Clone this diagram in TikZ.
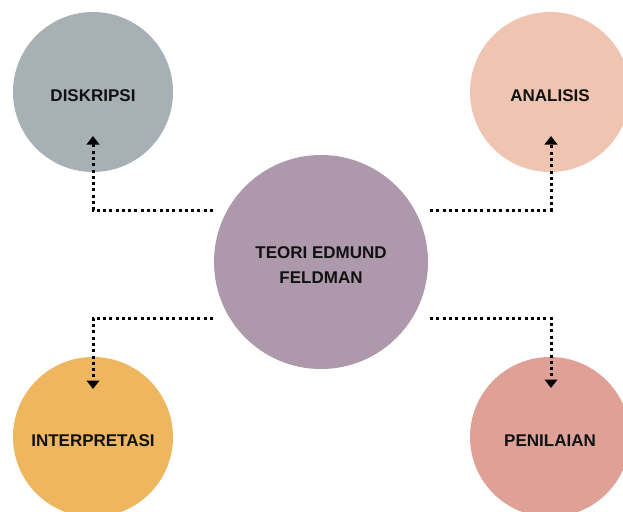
\documentclass[tikz,border=0pt]{standalone}
\usepackage{fontspec}
\setmainfont{Liberation Sans}
\usetikzlibrary{arrows.meta}
\definecolor{cgray}{HTML}{A7B0B4}
\definecolor{cpeach}{HTML}{EFC5B1}
\definecolor{cmauve}{HTML}{AD98AC}
\definecolor{corange}{HTML}{EEB75F}
\definecolor{crose}{HTML}{DFA196}
\definecolor{ctext}{HTML}{111111}
\begin{document}
\begin{tikzpicture}[x=1pt,y=-1pt,
  labeltext/.style={align=center, text=ctext, font=\bfseries\fontsize{17}{25}\selectfont},
  bubble/.style={circle, minimum size=160pt, inner sep=0pt, labeltext},
  lowtext/.style={text height=19.5pt, text depth=0pt},
  conn/.style={line width=3pt, dash pattern=on 3pt off 3.3pt,
    -{Triangle[width=12.5pt,length=8.5pt]}}]
\fill[white] (0,0) rectangle (623,511);
\useasboundingbox (0,0) rectangle (623,511);
\begin{scope}
\clip (0,0) rectangle (623,511);
\node[bubble, lowtext, fill=cgray] (dis) at (93,92) {DISKRIPSI};
\node[bubble, lowtext, fill=cpeach] (ana) at (550,92) {ANALISIS};
\node[bubble, lowtext, fill=corange] (int) at (93,437) {INTERPRETASI};
\node[bubble, lowtext, fill=crose] (pen) at (550,437) {PENILAIAN};
\node[bubble, minimum size=214pt, fill=cmauve] (teo) at (321,262) {};
\node[labeltext] (teo-text) at (321,265.5) {TEORI EDMUND\\FELDMAN};
\end{scope}
\coordinate (dis-s) at (213,210);
\coordinate (dis-e) at (93,136);
\coordinate (ana-s) at (430,210);
\coordinate (ana-e) at (551,136);
\coordinate (int-s) at (213,318);
\coordinate (int-e) at (93,389);
\coordinate (pen-s) at (430,318);
\coordinate (pen-e) at (551,388);
\draw[conn] (dis-s) -| (dis-e);
\draw[conn] (ana-s) -| (ana-e);
\draw[conn] (int-s) -| (int-e);
\draw[conn] (pen-s) -| (pen-e);
\end{tikzpicture}
\end{document}
